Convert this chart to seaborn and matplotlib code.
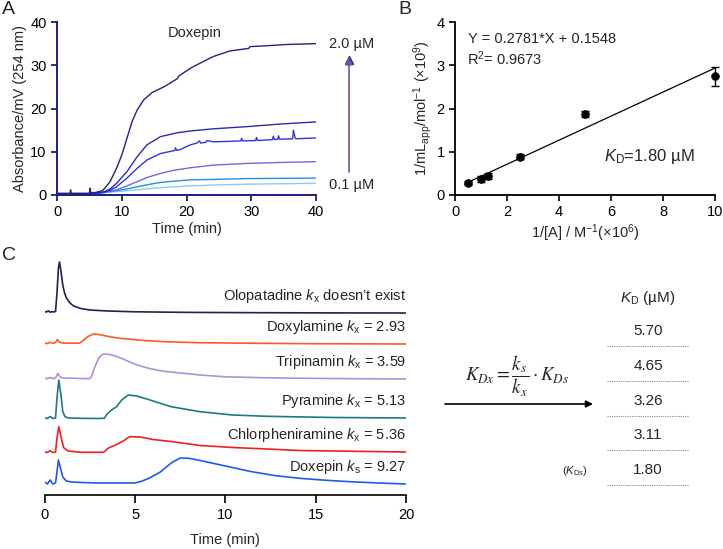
import matplotlib
matplotlib.use("Agg")
import matplotlib.pyplot as plt
import seaborn as sns
import numpy as np

# ---------------- data ----------------
# Panel A: Doxepin frontal traces (time in min, absorbance in mV)
a_labels = ["2.0 µM", "0.1 µM"]
a_t1 = [0, 1, 2, 2.1, 2.2, 3, 4, 5, 5.1, 5.2, 6, 7, 7.4, 8.2, 9.2, 10, 10.8, 11.6, 12.4, 13.4, 14.7, 16.5,
        18.6, 18.8, 19, 20.6, 21.6, 24.1, 26.7, 29.6, 29.8, 32.3, 35.4, 40]
a_y1 = [0.4, 0.4, 0.4, 1.2, 0.4, 0.4, 0.4, 0.4, 1.6, 0.5, 0.6, 1.0, 1.6, 3.1, 6.2, 9.2, 13.1, 17.0, 19.7, 22.0, 23.7, 25.0,
        26.9, 27.5, 27.7, 29.3, 30.1, 32.0, 33.3, 33.9, 34.3, 34.5, 34.8, 35.0]
a_t2 = [0, 3, 5, 6, 7, 7.4, 8.2, 9.2, 10.8, 12.4, 13.9, 16, 18.6, 20.6, 24.1, 29.3, 34.4, 40]
a_y2 = [0.3, 0.3, 0.3, 0.4, 0.6, 0.8, 1.4, 2.7, 5.4, 8.9, 11.6, 13.5, 14.4, 14.8, 15.3, 15.8, 16.4, 16.9]
a_t3 = [0, 3, 5, 6, 7, 8.2, 9.2, 10.8, 12.4, 13.9, 16, 18.2, 18.3, 18.5, 19, 20.6, 21.6, 22, 22.2, 23, 23.2, 24.1,
        26.7, 28.4, 28.5, 28.7, 30.7, 30.8, 31.0, 33.3, 33.4, 33.6, 34.1, 34.2, 34.4, 36.4, 36.5, 36.8, 37, 40]
a_y3 = [0.3, 0.3, 0.3, 0.4, 0.6, 1.1, 1.9, 3.9, 6.2, 8.1, 9.6, 10.3, 10.9, 10.3, 10.5, 11.6, 12.0, 12.5, 12.0, 12.2,
        12.6, 12.3, 12.4, 12.5, 13.1, 12.5, 12.6, 13.3, 12.6, 12.8, 13.6, 12.8, 12.9, 13.7, 12.9, 13.0, 15.0, 13.1, 13.0, 13.2]
a_t4 = [0, 5, 7, 8.2, 9.2, 10.8, 12.4, 14, 16, 18, 20.6, 24.1, 29.3, 34, 40]
a_y4 = [0.3, 0.3, 0.6, 0.9, 1.2, 2.1, 3.1, 4.1, 5.0, 5.7, 6.3, 6.9, 7.3, 7.5, 7.7]
a_t5 = [0, 5, 7, 8.2, 9.2, 10.8, 12.4, 14, 16, 18, 20.6, 24.1, 29.3, 40]
a_y5 = [0.3, 0.3, 0.5, 0.8, 1.0, 1.4, 1.9, 2.4, 2.9, 3.2, 3.5, 3.6, 3.8, 3.9]
a_t6 = [0, 5, 7, 8.2, 9.2, 12.4, 16, 20.6, 24.1, 29.3, 40]
a_y6 = [0.3, 0.3, 0.5, 0.65, 0.8, 1.2, 1.7, 2.1, 2.3, 2.5, 2.7]
a_colors = ["#23237c", "#2a2ab8", "#3434e0", "#6a6ae4", "#2090e6", "#90c8f0"]

# Panel B: double reciprocal plot
b_x = [0.5, 1.0, 1.25, 2.5, 5.0, 10.0]
b_y = [0.27, 0.37, 0.44, 0.89, 1.87, 2.75]
b_err = [0.05, 0.06, 0.06, 0.05, 0.07, 0.22]
b_slope, b_intercept = 0.2781, 0.1548

# Panel C: zonal elution traces (relative signal) and stacking offsets
c_names = ["Olopatadine", "Doxylamine", "Tripinamin", "Pyramine", "Chlorpheniramine", "Doxepin"]
c_k = ["doesn\u2019t exist", "= 2.93", "= 3.59", "= 5.13", "= 5.36", "= 9.27"]
c_colors = ["#2b1b58", "#ff5a1e", "#b08ee0", "#1d7a80", "#f02020", "#2058f0"]
c_offsets = [182, 151, 116, 77, 43, 11]
c_t_olo = [0, 0.1, 0.2, 0.3, 0.4, 0.5, 0.6, 0.68, 0.76, 0.82, 0.9, 1.0, 1.1, 1.2, 1.4, 1.6, 2.0, 2.5, 3.5, 5, 8, 12, 16, 20]
c_y_olo = [1.3, 1.0, 2.2, 0.8, 1.3, 1.0, 1.5, 20, 45, 51, 42, 28, 20, 15, 10, 7, 4.5, 3, 2, 1.2, 0.6, 0.3, 0.1, 0]
c_t_dxl = [0, 0.15, 0.3, 0.45, 0.6, 0.7, 0.8, 1.0, 1.5, 1.9, 2.1, 2.4, 2.7, 3.0, 3.4, 4.0, 4.9, 5.5, 6.4, 7.5, 8.6, 10, 12.3, 15, 20]
c_y_dxl = [1, 0.5, 1.8, 0.5, 1.5, 4.5, 2, 1, 0.8, 0.8, 3, 7.5, 10, 9.5, 8, 6, 4.5, 3.5, 2.5, 1.8, 1.3, 1, 0.6, 0.3, 0]
c_t_tri = [0, 0.15, 0.3, 0.45, 0.6, 0.73, 0.85, 1.0, 1.5, 2.0, 2.5, 2.6, 2.75, 2.98, 3.15, 3.3, 3.6, 4.0, 4.4, 4.9,
           5.3, 5.8, 6.5, 7.5, 8.6, 10, 12, 14, 17, 20]
c_y_tri = [0.7, 0.3, 1.5, 0.3, 1, 5.5, 2, 1, 0.8, 0.5, 0.3, 3, 11, 20.5, 24, 25, 24.5, 22.5, 19.5, 15.5,
           13, 10.5, 8, 6, 4, 2.2, 1.3, 0.8, 0.3, 0]
c_t_pyr = [0, 0.15, 0.3, 0.45, 0.6, 0.68, 0.78, 0.9, 1.0, 1.13, 1.3, 2.0, 3.0, 3.3, 3.44, 3.7, 3.98, 4.26, 4.63,
           5.1, 5.65, 6.4, 7.0, 8.6, 10.4, 12.3, 16, 20]
c_y_pyr = [0, -0.5, 1.5, -0.5, 0, 20, 38, 23, 6.3, 1.3, 0, -0.3, -0.5, -0.3, 3.7, 8, 11.3, 18, 23,
           22, 19, 14.7, 11.3, 6.3, 3, 1.7, 0.5, 0]
c_t_chl = [0, 0.15, 0.3, 0.45, 0.6, 0.68, 0.78, 0.9, 1.05, 1.3, 2.0, 3.26, 3.5, 4.0, 4.35, 4.7, 5.3, 6.0, 7.0,
           8.6, 10.4, 12.3, 14.1, 16, 20]
c_y_chl = [0, -0.5, 1.3, -0.5, 0, 14, 25.3, 15.3, 4.3, 1, -0.3, -0.3, 3.7, 7.7, 11, 15.3, 15, 12.5, 10.5,
           6.5, 4.5, 3, 1.5, 1, 0]
c_t_dxp = [0, 0.15, 0.3, 0.45, 0.6, 0.68, 0.76, 0.9, 1.0, 1.2, 1.5, 2, 3, 4, 5.0, 5.4, 5.8, 6.4, 7.0, 7.5, 8.0,
           8.6, 10, 11.4, 12.7, 14.1, 15.5, 16.9, 18.5, 20]
c_y_dxp = [2, 0, 4, 0, 1, 12, 24, 14, 7, 3, 2, 1.5, 1, 1, 1, 3, 6, 12, 21, 26, 25.7,
           23.5, 18, 12.5, 8.5, 5.7, 3.8, 2.3, 1, 0]
c_traces = [(c_t_olo, c_y_olo), (c_t_dxl, c_y_dxl), (c_t_tri, c_y_tri),
            (c_t_pyr, c_y_pyr), (c_t_chl, c_y_chl), (c_t_dxp, c_y_dxp)]

kd_values = ["5.70", "4.65", "3.26", "3.11", "1.80"]

# ---------------- style ----------------
sns.set_theme(style="ticks")
plt.rcParams["font.family"] = ["Liberation Sans", "DejaVu Sans"]
plt.rcParams["mathtext.fontset"] = "custom"
plt.rcParams["mathtext.rm"] = "Liberation Sans"
plt.rcParams["mathtext.it"] = "Liberation Sans:italic"
plt.rcParams["mathtext.bf"] = "Liberation Sans:bold"
FS = 10.5

W, H = 723, 549
fig = plt.figure(figsize=(W / 100, H / 100), dpi=100)


def rect(l, t, r, b):
    return [l / W, 1 - b / H, (r - l) / W, (b - t) / H]


# ---------------- Panel A ----------------
navy = "#1c1c86"
axA = fig.add_axes(rect(57, 22, 316, 195))
a_series = [(a_t1, a_y1), (a_t2, a_y2), (a_t3, a_y3), (a_t4, a_y4), (a_t5, a_y5), (a_t6, a_y6)]
for (tt, yy), col in zip(reversed(a_series), reversed(a_colors)):
    sns.lineplot(x=tt, y=yy, ax=axA, color=col, linewidth=1.0)
axA.set_xlim(0, 40)
axA.set_ylim(0, 40)
axA.set_xticks([0, 10, 20, 30, 40])
axA.set_yticks([0, 10, 20, 30, 40])
sns.despine(ax=axA)
for s in ["left", "bottom"]:
    axA.spines[s].set_color(navy)
    axA.spines[s].set_linewidth(1.4)
axA.tick_params(colors=navy, labelcolor="black", labelsize=FS, length=4, width=1.3)
axA.set_xlabel("Time (min)", fontsize=FS, labelpad=2)
axA.set_ylabel("Absorbance/mV (254 nm)", fontsize=FS, labelpad=2)
axA.text(21.3, 37.5, "Doxepin", fontsize=FS, ha="center", va="center")
axA.text(42.0, 35.0, a_labels[0], fontsize=FS, ha="left", va="center", clip_on=False)
axA.text(42.0, 2.3, a_labels[1], fontsize=FS, ha="left", va="center", clip_on=False)
axA.annotate("", xy=(45.1, 32.0), xytext=(45.1, 5.3), annotation_clip=False,
             arrowprops=dict(arrowstyle="-|>", color="#5a5aa8", lw=1.2, mutation_scale=11,
                             shrinkA=0, shrinkB=0))
axA.plot([45.1], [31.2], marker="^", color=navy, markersize=6, clip_on=False)

# ---------------- Panel B ----------------
axB = fig.add_axes(rect(455, 22, 715, 195))
fit_x = [b_x[0], b_x[-1]]
fit_y = [b_slope * v + b_intercept for v in fit_x]
sns.lineplot(x=fit_x, y=fit_y, ax=axB, color="black", linewidth=0.9)
eb = axB.errorbar(b_x, b_y, yerr=b_err, fmt="none", ecolor="black", elinewidth=1.0, capsize=3, capthick=1.0)
for art in eb.lines[1] + eb.lines[2]:
    art.set_clip_on(False)
sns.scatterplot(x=b_x, y=b_y, ax=axB, color="black", s=32, edgecolor="black", zorder=3, clip_on=False)
axB.set_xlim(0, 10)
axB.set_ylim(0, 4)
axB.set_xticks([0, 2, 4, 6, 8, 10])
axB.set_yticks([0, 1, 2, 3, 4])
sns.despine(ax=axB)
for s in ["left", "bottom"]:
    axB.spines[s].set_linewidth(1.3)
    axB.spines[s].set_color("black")
axB.tick_params(colors="black", labelsize=FS, length=4, width=1.2)
axB.set_xlabel(r"1/[A] / M$^{-1}$(×10$^{6}$)", fontsize=FS, labelpad=2)
axB.set_ylabel(r"1/mL$_{\mathrm{app}}$/mol$^{-1}$ (×10$^{9}$)", fontsize=FS, labelpad=2)
axB.text(0.5, 3.6, "Y = 0.2781*X + 0.1548", fontsize=FS, ha="left", va="center")
axB.text(0.45, 3.15, r"R$^{2}$= 0.9673", fontsize=FS, ha="left", va="center")
axB.text(5.75, 0.9, r"$K_{\mathrm{D}}$=1.80 µM", fontsize=12, ha="left", va="center")

# ---------------- Panel C ----------------
axC = fig.add_axes(rect(44.7, 255, 406, 495))
for (tt, yy), off, col, name, kk in zip(c_traces, c_offsets, c_colors, c_names, c_k):
    sns.lineplot(x=tt, y=np.asarray(yy) + off, ax=axC, color=col, linewidth=1.2)
    sym = "s" if name == "Doxepin" else "x"
    axC.text(20, off + 17, name + r" $k_{\mathrm{" + sym + r"}}$ " + kk, fontsize=FS,
             ha="right", va="center")
axC.set_xlim(0, 20)
axC.set_ylim(0, 240)
axC.set_xticks([0, 5, 10, 15, 20])
axC.set_yticks([])
sns.despine(ax=axC, left=True)
axC.spines["bottom"].set_linewidth(1.2)
axC.spines["bottom"].set_color("black")
axC.tick_params(axis="x", colors="black", labelsize=FS, length=6, width=1.2)
axC.set_xlabel("Time (min)", fontsize=FS, labelpad=8)

# ---------------- overlay annotations ----------------
ov = fig.add_axes([0, 0, 1, 1], facecolor="none")
ov.set_xlim(0, W)
ov.set_ylim(H, 0)
ov.axis("off")
ov.text(2, 10, "A", fontsize=14, ha="left", va="center")
ov.text(398, 10, "B", fontsize=14, ha="left", va="center")
ov.text(2, 255, "C", fontsize=14, ha="left", va="center")
ov.text(517, 376, r"$K_{Dx} = \dfrac{k_s}{k_x}\cdot K_{Ds}$", fontsize=13.5, ha="center", va="center",
        math_fontfamily="stix")
ov.annotate("", xy=(593, 404), xytext=(445, 404),
            arrowprops=dict(arrowstyle="-|>", color="black", lw=1.2, mutation_scale=10, shrinkA=0, shrinkB=0))
ov.text(648, 298, r"$K_{\mathrm{D}}$ (µM)", fontsize=11, ha="center", va="center")
kd_y = [331, 366, 401, 435, 470]
for v, yy in zip(kd_values, kd_y):
    ov.text(648, yy, v, fontsize=11, ha="center", va="center")
    ov.plot([607, 689], [yy + 15, yy + 15], color="#8a8a8a", lw=0.8, linestyle=(0, (1, 1)))
ov.text(575, 471, r"($K_{\mathrm{Ds}}$)", fontsize=8, ha="center", va="center")

fig.savefig("out.png", dpi=100)
